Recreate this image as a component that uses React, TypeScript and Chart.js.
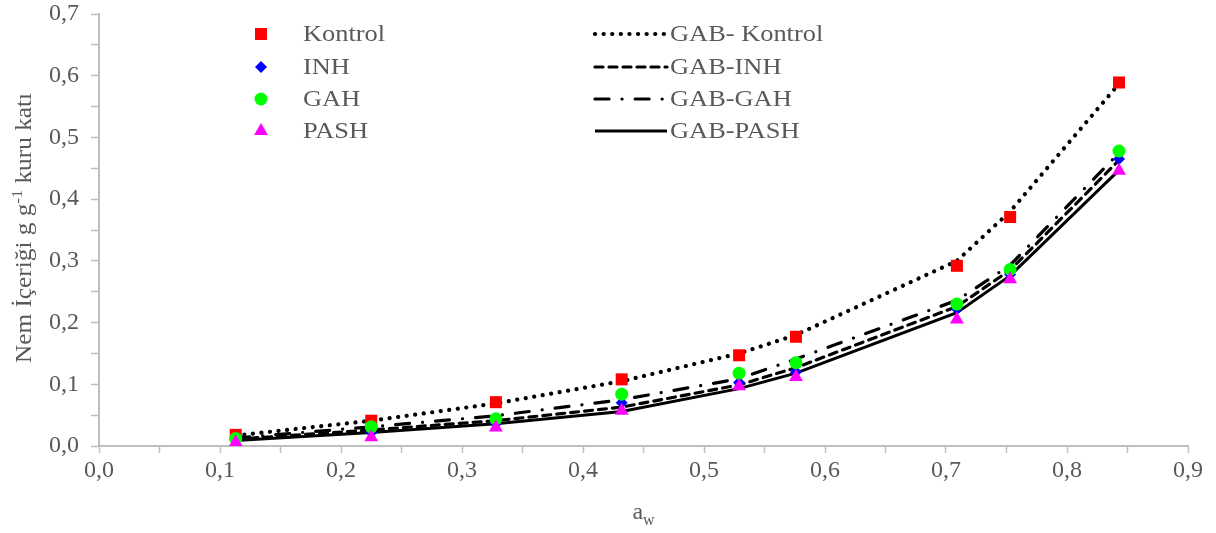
import React, { useEffect, useRef } from 'react';
import { Chart, registerables } from 'chart.js';

Chart.register(...registerables);

// ---- data ----
const aw = [0.113, 0.225, 0.328, 0.432, 0.529, 0.576, 0.709, 0.753, 0.843];
const kontrol = [0.018, 0.041, 0.071, 0.108, 0.147, 0.177, 0.292, 0.371, 0.589];
const inh = [0.009, 0.022, 0.036, 0.070, 0.103, 0.120, 0.222, 0.278, 0.465];
const gah = [0.012, 0.031, 0.044, 0.084, 0.118, 0.135, 0.230, 0.286, 0.478];
const pash = [0.006, 0.014, 0.030, 0.057, 0.097, 0.112, 0.205, 0.270, 0.446];
const gabKontrol = [0.017, 0.041, 0.069, 0.105, 0.150, 0.180, 0.300, 0.380, 0.587];
const gabInh = [0.011, 0.026, 0.041, 0.063, 0.099, 0.127, 0.226, 0.285, 0.463];
const gabGah = [0.013, 0.031, 0.049, 0.075, 0.109, 0.141, 0.236, 0.293, 0.475];
const gabPash = [0.009, 0.022, 0.036, 0.056, 0.093, 0.118, 0.216, 0.276, 0.447];

const markerLabels = ['Kontrol', 'INH', 'GAH', 'PASH'];
const lineLabels = ['GAB- Kontrol', 'GAB-INH', 'GAB-GAH', 'GAB-PASH'];
const yTitleParts = ['Nem İçeriği g g', '-1', ' kuru katı'];
const xTitleParts = ['a', 'w'];

const FONT = '"Liberation Serif", "Times New Roman", serif';
const TEXT = '#595959';
const AXIS = '#BFBFBF';

const markerColors = ['#FF0000', '#0000FF', '#00FF00', '#FF00FF'];
const markerStyles = ['rect', 'rectRot', 'circle', 'triangle'];
const markerRadii = [8.5, 6, 6.5, 8];
const lineDashes: number[][] = [[0.1, 8.5], [8, 6], [14, 13, 0.1, 13], []];
const lineWidths = [4.2, 3.2, 3.2, 3];

const toPts = (ys: number[]) => aw.map((x, i) => ({ x, y: ys[i] }));

const fmtTick = (v: number) => {
  const k = Math.round(v * 100);
  return k % 10 === 0 ? (k / 100).toFixed(1).replace('.', ',') : '';
};

const drawMarker = (ctx: CanvasRenderingContext2D, style: string, x: number, y: number, r: number, color: string) => {
  ctx.save();
  ctx.fillStyle = color;
  ctx.beginPath();
  if (style === 'rect') {
    const s = Math.SQRT1_2 * r;
    ctx.rect(x - s, y - s, 2 * s, 2 * s);
  } else if (style === 'rectRot') {
    ctx.moveTo(x - r, y);
    ctx.lineTo(x, y - r);
    ctx.lineTo(x + r, y);
    ctx.lineTo(x, y + r);
    ctx.closePath();
  } else if (style === 'circle') {
    ctx.arc(x, y, r, 0, Math.PI * 2);
  } else {
    const h = Math.sin(Math.PI / 3) * r;
    ctx.moveTo(x, y - r);
    ctx.lineTo(x + h, y + r / 2);
    ctx.lineTo(x - h, y + r / 2);
    ctx.closePath();
  }
  ctx.fill();
  ctx.restore();
};

const stretchText = (ctx: CanvasRenderingContext2D, text: string, x: number, y: number, sx: number) => {
  ctx.save();
  ctx.translate(x, y);
  ctx.scale(sx, 1);
  ctx.fillText(text, 0, 0);
  ctx.restore();
};

const overlayPlugin = {
  id: 'overlay',
  afterDraw(chart: any) {
    const ctx: CanvasRenderingContext2D = chart.ctx;
    ctx.save();
    // legend
    const rows = [34, 67, 99, 131];
    ctx.font = `24px ${FONT}`;
    ctx.textBaseline = 'middle';
    ctx.textAlign = 'left';
    rows.forEach((y, i) => {
      drawMarker(ctx, markerStyles[i], 261, y, markerRadii[i], markerColors[i]);
      ctx.fillStyle = TEXT;
      stretchText(ctx, markerLabels[i], 303, y + 1, 1.1);
      ctx.save();
      ctx.strokeStyle = '#000';
      ctx.lineWidth = lineWidths[i];
      ctx.lineCap = i === 3 ? 'butt' : 'round';
      ctx.setLineDash(lineDashes[i]);
      ctx.beginPath();
      ctx.moveTo(595, y);
      ctx.lineTo(667, y);
      ctx.stroke();
      ctx.restore();
      ctx.fillStyle = TEXT;
      stretchText(ctx, lineLabels[i], 670, y + 1, 1.1);
    });

    // x title
    ctx.fillStyle = TEXT;
    ctx.textBaseline = 'alphabetic';
    ctx.font = `24px ${FONT}`;
    const aW = ctx.measureText(xTitleParts[0]).width;
    ctx.font = `16px ${FONT}`;
    const wW = ctx.measureText(xTitleParts[1]).width;
    const cx = (chart.chartArea.left + chart.chartArea.right) / 2;
    const xs = cx - (aW + wW) / 2;
    ctx.font = `24px ${FONT}`;
    ctx.fillText(xTitleParts[0], xs, 519);
    ctx.font = `16px ${FONT}`;
    ctx.fillText(xTitleParts[1], xs + aW, 525);

    // y title (rotated)
    ctx.save();
    ctx.translate(31, 228);
    ctx.rotate(-Math.PI / 2);
    ctx.scale(1.1, 1);
    ctx.font = `23px ${FONT}`;
    const w0 = ctx.measureText(yTitleParts[0]).width;
    const w2 = ctx.measureText(yTitleParts[2]).width;
    ctx.font = `15px ${FONT}`;
    const w1 = ctx.measureText(yTitleParts[1]).width;
    let px = -(w0 + w1 + w2) / 2;
    ctx.font = `23px ${FONT}`;
    ctx.fillText(yTitleParts[0], px, 0);
    px += w0;
    ctx.font = `15px ${FONT}`;
    ctx.fillText(yTitleParts[1], px, -9);
    px += w1;
    ctx.font = `23px ${FONT}`;
    ctx.fillText(yTitleParts[2], px, 0);
    ctx.restore();

    ctx.restore();
  },
};

export default function App() {
  const ref = useRef<HTMLCanvasElement>(null);

  useEffect(() => {
    document.body.style.margin = '0';
    const canvas = ref.current!;
    const markerSets = [kontrol, inh, gah, pash];
    const lineSets = [gabKontrol, gabInh, gabGah, gabPash];
    const datasets: any[] = [];
    lineSets.forEach((ys, i) => {
      datasets.push({
        label: lineLabels[i],
        data: toPts(ys),
        showLine: true,
        borderColor: '#000',
        backgroundColor: '#000',
        borderWidth: lineWidths[i],
        borderDash: lineDashes[i],
        borderCapStyle: i === 3 ? 'butt' : 'round',
        pointRadius: 0,
        tension: 0,
        order: 10 + i,
      });
    });
    markerSets.forEach((ys, i) => {
      datasets.push({
        label: markerLabels[i],
        data: toPts(ys),
        showLine: false,
        pointStyle: markerStyles[i],
        pointRadius: markerRadii[i],
        pointBackgroundColor: markerColors[i],
        pointBorderColor: markerColors[i],
        pointBorderWidth: 0,
        order: 3 - i,
      });
    });

    const chart = new Chart(canvas, {
      type: 'scatter',
      data: { datasets },
      options: {
        responsive: false,
        animation: false,
        layout: { padding: { left: 0, top: 14, right: 28, bottom: 0 } },
        plugins: { legend: { display: false }, tooltip: { enabled: false } },
        scales: {
          x: {
            type: 'linear',
            min: 0,
            max: 0.9,
            afterFit: (s: any) => {
              s.height = 87;
              s.paddingLeft = 0;
              s.paddingRight = 0;
              s.paddingTop = 0;
              s.paddingBottom = 0;
            },
            ticks: {
              stepSize: 0.05,
              autoSkip: false,
              maxRotation: 0,
              padding: 3,
              color: TEXT,
              font: { family: FONT, size: 24 },
              callback: (v: any) => fmtTick(Number(v)),
            },
            grid: { drawOnChartArea: false, drawTicks: true, tickLength: 7, tickColor: AXIS, tickWidth: 1.5 },
            border: { color: AXIS, width: 2 },
          },
          y: {
            type: 'linear',
            min: 0,
            max: 0.7,
            afterFit: (s: any) => {
              s.width = 99;
              s.paddingLeft = 0;
              s.paddingRight = 0;
              s.paddingTop = 0;
              s.paddingBottom = 0;
            },
            ticks: {
              stepSize: 0.05,
              autoSkip: false,
              padding: 12,
              color: TEXT,
              font: { family: FONT, size: 24 },
              callback: (v: any) => fmtTick(Number(v)),
            },
            grid: { drawOnChartArea: false, drawTicks: true, tickLength: 8, tickColor: AXIS, tickWidth: 1.5 },
            border: { color: AXIS, width: 2 },
          },
        },
      },
      plugins: [overlayPlugin],
    });
    return () => chart.destroy();
  }, []);

  return (
    <div style={{ position: 'absolute', left: 0, top: 0, width: 1216, height: 533, background: '#fff' }}>
      <canvas ref={ref} width={1216} height={533} style={{ display: 'block' }} />
    </div>
  );
}
